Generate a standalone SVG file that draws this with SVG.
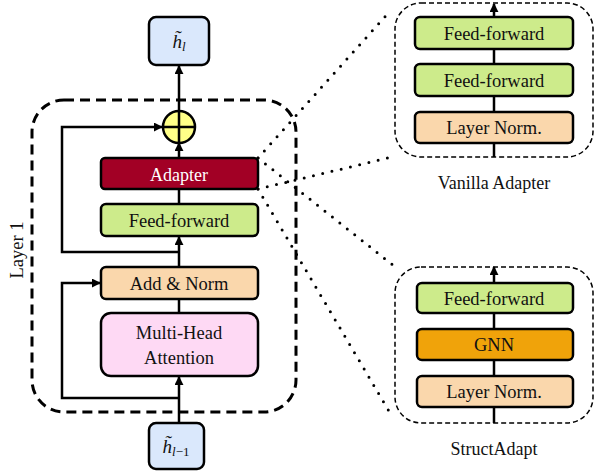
<svg xmlns="http://www.w3.org/2000/svg" width="596" height="472" viewBox="0 0 596 472">
<defs>
<marker id="ah" viewBox="0 0 10 10" refX="9" refY="5" markerWidth="9" markerHeight="9" markerUnits="userSpaceOnUse" orient="auto">
<path d="M0,0 L10,5 L0,10 z" fill="#000"/>
</marker>
<style>
.box{stroke:#000;stroke-width:2.5}
.t{font-family:"Liberation Serif","Times New Roman",serif;font-size:18.5px;fill:#111;text-anchor:middle}
.ln{fill:none;stroke:#000;stroke-width:2.5}
.dot{fill:none;stroke:#000;stroke-width:3;stroke-dasharray:0 9.5;stroke-linecap:round}
</style>
</defs>
<rect width="596" height="472" fill="#fff"/>

<g id="layer-box">
<rect x="32" y="100" width="264" height="312" rx="32" fill="none" stroke="#000" stroke-width="3" stroke-dasharray="10 6"/>
<text class="t" transform="translate(17,250) rotate(-90)" dy="6">Layer 1</text>
</g>

<g id="connectors">
<line class="ln" x1="179" y1="423" x2="179" y2="377" marker-end="url(#ah)"/>
<polyline class="ln" points="179,398 62,398 62,283 100,283" marker-end="url(#ah)"/>
<line class="ln" x1="179" y1="313" x2="179" y2="299"/>
<line class="ln" x1="179" y1="267" x2="179" y2="237" marker-end="url(#ah)"/>
<polyline class="ln" points="179,252 62,252 62,127 162,127" marker-end="url(#ah)"/>
<line class="ln" x1="179" y1="204" x2="179" y2="189"/>
<line class="ln" x1="179" y1="158" x2="179" y2="143" marker-end="url(#ah)"/>
<line class="ln" x1="179" y1="111" x2="179" y2="66" marker-end="url(#ah)"/>
<line class="ln" x1="494" y1="157" x2="494" y2="4" marker-end="url(#ah)"/>
<line class="ln" x1="494" y1="423" x2="494" y2="267" marker-end="url(#ah)"/>
<line class="dot" x1="258" y1="158" x2="391" y2="10"/>
<line class="dot" x1="258" y1="189" x2="392" y2="157"/>
<line class="dot" x1="258" y1="158" x2="394" y2="266"/>
<line class="dot" x1="258" y1="189" x2="393" y2="418"/>
</g>

<g id="h-l">
<rect class="box" x="149" y="17" width="60" height="48" rx="7" fill="#dae8fc"/>
<text class="t" x="179" y="48" style="font-size:19px"><tspan font-style="italic">h̃</tspan><tspan font-style="italic" font-size="13" dy="3">l</tspan></text>
</g>

<g id="plus">
<circle cx="179" cy="127" r="16" fill="#ffff88" stroke="#000" stroke-width="2.5"/>
<line class="ln" x1="163" y1="127" x2="195" y2="127"/>
<line class="ln" x1="179" y1="111" x2="179" y2="143"/>
</g>

<g id="adapter">
<rect class="box" x="101" y="158" width="157" height="31" rx="4" fill="#a20025"/>
<text class="t" x="179" y="180.5" style="fill:#fff;font-size:18px">Adapter</text>
</g>

<g id="ff">
<rect class="box" x="101" y="204" width="157" height="32" rx="5" fill="#cdeb8b"/>
<text class="t" x="179" y="226.5">Feed-forward</text>
</g>

<g id="addnorm">
<rect class="box" x="101" y="267" width="157" height="32" rx="5" fill="#fad7ac"/>
<text class="t" x="179" y="289.5">Add &amp; Norm</text>
</g>

<g id="mha">
<rect class="box" x="101" y="313" width="157" height="63" rx="10" fill="#fed9f4"/>
<text class="t" x="179" y="339">Multi-Head</text>
<text class="t" x="179" y="364">Attention</text>
</g>

<g id="h-l-1">
<rect class="box" x="149" y="423" width="55" height="46" rx="7" fill="#dae8fc"/>
<text class="t" x="176" y="453" style="font-size:19px"><tspan font-style="italic">h̃</tspan><tspan font-style="italic" font-size="13" dy="3">l</tspan><tspan font-size="13">−1</tspan></text>
</g>

<g id="vanilla">
<rect x="395" y="3" width="198" height="154" rx="26" fill="none" stroke="#000" stroke-width="1.5" stroke-dasharray="5 3"/>
<rect class="box" x="415" y="17" width="158" height="32" rx="5" fill="#cdeb8b"/>
<text class="t" x="494" y="39.5">Feed-forward</text>
<rect class="box" x="415" y="64" width="158" height="32" rx="5" fill="#cdeb8b"/>
<text class="t" x="494" y="86.5">Feed-forward</text>
<rect class="box" x="415" y="112" width="158" height="31" rx="5" fill="#fad7ac"/>
<text class="t" x="494" y="134">Layer Norm.</text>
<text class="t" x="494" y="189" style="font-size:18px">Vanilla Adapter</text>
</g>

<g id="structadapt">
<rect x="395" y="267" width="198" height="156" rx="26" fill="none" stroke="#000" stroke-width="1.5" stroke-dasharray="5 3"/>
<rect class="box" x="417" y="283" width="156" height="30" rx="5" fill="#cdeb8b"/>
<text class="t" x="494" y="304.5">Feed-forward</text>
<rect class="box" x="417" y="329" width="156" height="31" rx="5" fill="#f0a30a"/>
<text class="t" x="494" y="351">GNN</text>
<rect class="box" x="417" y="376" width="156" height="31" rx="5" fill="#fad7ac"/>
<text class="t" x="494" y="398">Layer Norm.</text>
<text class="t" x="494" y="455" style="font-size:18px">StructAdapt</text>
</g>
</svg>
